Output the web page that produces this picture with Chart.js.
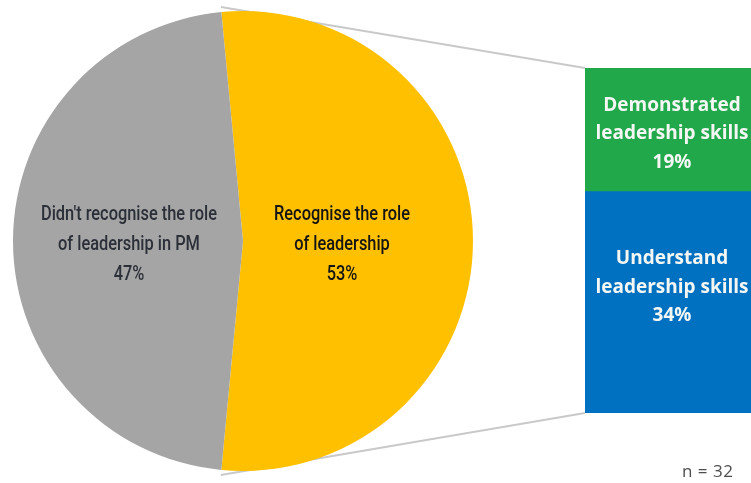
<!DOCTYPE html>
<html>
<head>
<meta charset="utf-8">
<script src="https://cdn.jsdelivr.net/npm/chart.js@4.4.1/dist/chart.umd.min.js"></script>
<style>
  html, body { margin: 0; padding: 0; background: #fff; overflow: hidden; }
  #wrap { position: relative; width: 751px; height: 483px; overflow: hidden; }
  #pieBox { position: absolute; left: 0; top: 0; width: 751px; height: 483px; }
  #barBox { position: absolute; left: 585px; top: 68px; width: 180px; height: 345px; }
  #note { position: absolute; left: 682px; top: 459px; font: 17px "Open Sans", sans-serif; color: #4D4D4D; letter-spacing: 0.5px; }
</style>
</head>
<body>
<div id="wrap">
  <div id="pieBox"><canvas id="pieChart"></canvas></div>
  <div id="barBox"><canvas id="barChart"></canvas></div>
  <div id="note">n = 32</div>
</div>
<script>
// données du camembert (en %)
const pieLabels = [
  ['Recognise the role', 'of leadership', '53%'],
  ["Didn't recognise the role", 'of leadership in PM', '47%']
];
const pieValues = [53, 47];
const pieColors = ['#FFC000', '#A5A5A5'];

// données de la barre de détail (en %), de bas en haut
const barLabels = [
  ['Understand', 'leadership skills', '34%'],
  ['Demonstrated', 'leadership skills', '19%']
];
const barValues = [34, 19];
const barColors = ['#0070C0', '#21A84A'];

Chart.defaults.animation = false;
Chart.defaults.events = [];

// Graphique en barre empilée (détail de la part "Recognise")
const barChart = new Chart(document.getElementById('barChart'), {
  type: 'bar',
  data: {
    labels: [''],
    datasets: barValues.map((v, i) => ({
      data: [v],
      backgroundColor: barColors[i],
      borderWidth: 0,
      barPercentage: 1,
      categoryPercentage: 1
    }))
  },
  options: {
    responsive: true,
    maintainAspectRatio: false,
    layout: { padding: 0 },
    plugins: { legend: { display: false }, tooltip: { enabled: false } },
    scales: {
      x: { stacked: true, display: false },
      y: { stacked: true, display: false, min: 0, max: pieValues[0] }
    }
  },
  plugins: [{
    id: 'barText',
    afterDatasetsDraw(chart) {
      const ctx = chart.ctx;
      const shifts = [-15, 4];
      ctx.save();
      ctx.font = 'bold 19px "Open Sans", sans-serif';
      ctx.fillStyle = '#F4F7F4';
      ctx.textAlign = 'center';
      ctx.textBaseline = 'middle';
      chart.data.datasets.forEach((ds, i) => {
        const bar = chart.getDatasetMeta(i).data[0];
        const cy = (bar.y + bar.base) / 2 + shifts[i];
        barLabels[i].forEach((line, k) => {
          ctx.fillText(line, bar.x - 3, cy + (k - 1) * 28.5);
        });
      });
      ctx.restore();
    }
  }]
});

// Camembert principal, la part jaune centrée vers la droite
const total = pieValues.reduce((a, b) => a + b, 0);
const pieChart = new Chart(document.getElementById('pieChart'), {
  type: 'pie',
  data: {
    labels: pieLabels.map(l => l.join(' ')),
    datasets: [{
      data: pieValues,
      backgroundColor: pieColors,
      borderWidth: 0,
      hoverOffset: 0,
      offset: 0
    }]
  },
  options: {
    responsive: true,
    maintainAspectRatio: false,
    rotation: 90 - (pieValues[0] / total) * 180,
    layout: { padding: { left: 13, top: 11, right: 278, bottom: 12 } },
    plugins: { legend: { display: false }, tooltip: { enabled: false } }
  },
  plugins: [{
    id: 'connecteurs',
    beforeDatasetsDraw(chart) {
      // lignes reliant la part jaune à la barre
      const arc = chart.getDatasetMeta(0).data[0];
      const barMeta0 = barChart.getDatasetMeta(0).data[0];
      const barMetaTop = barChart.getDatasetMeta(barValues.length - 1).data[0];
      const box = document.getElementById('barBox');
      const bx = box.offsetLeft + barMeta0.x - barMeta0.width / 2;
      const topY = box.offsetTop + barMetaTop.y;
      const botY = box.offsetTop + barMeta0.base;
      const r = arc.outerRadius + 5;
      const ctx = chart.ctx;
      ctx.save();
      ctx.strokeStyle = '#C9C9C9';
      ctx.lineWidth = 2;
      ctx.beginPath();
      ctx.moveTo(arc.x + r * Math.cos(arc.startAngle), arc.y + r * Math.sin(arc.startAngle));
      ctx.lineTo(bx, topY);
      ctx.moveTo(arc.x + r * Math.cos(arc.endAngle), arc.y + r * Math.sin(arc.endAngle));
      ctx.lineTo(bx, botY);
      ctx.stroke();
      ctx.restore();
    },
    afterDatasetsDraw(chart) {
      const ctx = chart.ctx;
      const meta = chart.getDatasetMeta(0);
      const styles = [
        { font: '500 21px Roboto, sans-serif', color: '#141414', dx: -16 },
        { font: '500 21px Roboto, sans-serif', color: '#2B2F38', dx: 1 }
      ];
      ctx.save();
      ctx.textAlign = 'center';
      ctx.textBaseline = 'middle';
      meta.data.forEach((arc, i) => {
        const p = arc.getCenterPoint();
        const s = styles[i];
        ctx.font = s.font;
        ctx.fillStyle = s.color;
        pieLabels[i].forEach((line, k) => {
          ctx.save();
          ctx.translate(p.x + s.dx, p.y + 4 + (k - 1) * 30);
          ctx.scale(0.78, 1);
          ctx.fillText(line, 0, 0);
          ctx.restore();
        });
      });
      ctx.restore();
    }
  }]
});
</script>
</body>
</html>
